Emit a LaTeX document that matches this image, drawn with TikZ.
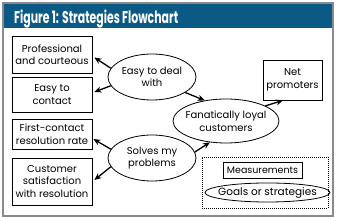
\documentclass[tikz,border=0pt]{standalone}
\usepackage{fontspec}
\setmainfont{Poppins}
\usepackage{graphicx}
\usetikzlibrary{arrows.meta, shapes.geometric}
\definecolor{titleblue}{HTML}{0B5A85}
\definecolor{framegray}{HTML}{8A8A8A}

\begin{document}
\begin{tikzpicture}[x=1pt, y=-1pt,
      every node/.style={font=\fontsize{10}{12.5}\selectfont, align=center},
      box/.style={draw, line width=0.8pt, inner sep=0pt},
      oval/.style={draw, ellipse, line width=0.8pt, inner xsep=-8pt, inner ysep=-3pt},
      legendbox/.style={draw, line width=0.8pt, dash pattern=on 1pt off 1pt, inner sep=0pt},
      arr/.style={-{Stealth[length=7pt, width=6pt]}, line width=1.3pt},
    ]
    \useasboundingbox (0,0) rectangle (340,221);
    \fill[titleblue] (3,3) rectangle (333,28);
    \draw[framegray, line width=2pt] (3,3) rectangle (333,216);
    \node[anchor=base west, text=white, inner sep=0pt, font=\fontsize{17}{17}\selectfont\bfseries] (title) at (14,23.5)
      {\resizebox{164pt}{\height}{Figure 1: Strategies Flowchart}};

    \node[box, minimum width=80pt, minimum height=37pt] (prof) at (52,54.5) {Professional\\and courteous};
    \node[box, minimum width=80pt, minimum height=35pt] (contact) at (52,94.5) {Easy to\\contact};
    \node[box, minimum width=80pt, minimum height=30pt] (first) at (52,134) {First-contact\\resolution rate};
    \node[box, minimum width=80pt, minimum height=47pt] (satis) at (52,181.5) {Customer\\satisfaction\\with resolution};

    \node[oval, minimum width=88pt, minimum height=46pt] (easy) at (152,77) {Easy to deal\\with};
    \node[oval, minimum width=88pt, minimum height=46pt] (solves) at (152,158) {Solves my\\problems};
    \node[oval, minimum width=106pt, minimum height=44pt] (loyal) at (226,121) {Fanatically loyal\\customers};
    \node[box, minimum width=59pt, minimum height=40pt] (net) at (292.5,80) {Net\\promoters};

    % legend
    \node[legendbox, minimum width=126pt, minimum height=51pt] (legend) at (265,182.5) {};
    \node[box, minimum width=79pt, minimum height=16pt, font=\fontsize{9.5}{12}\selectfont] (meas) at (262.5,170) {Measurements};
    \node[oval, minimum width=125pt, minimum height=19pt, font=\fontsize{10.5}{12}\selectfont] (goals) at (267.5,192.5) {Goals or strategies};

    \draw[arr] (easy.168) -- ([shift={(2pt,-3pt)}]prof.east);
    \draw[arr] (easy.192) -- ([shift={(2pt,2.5pt)}]contact.east);
    \draw[arr] (solves.168) -- ([shift={(1pt,-5pt)}]first.east);
    \draw[arr] (solves.192) -- ([shift={(2pt,1.5pt)}]satis.east);
    \draw[arr] (easy.-25) -- (loyal.136);
    \draw[arr] (solves.8) -- (loyal.-127);
    \draw[arr] (loyal.21) -- (net.245);
    \end{tikzpicture}
\end{document}
